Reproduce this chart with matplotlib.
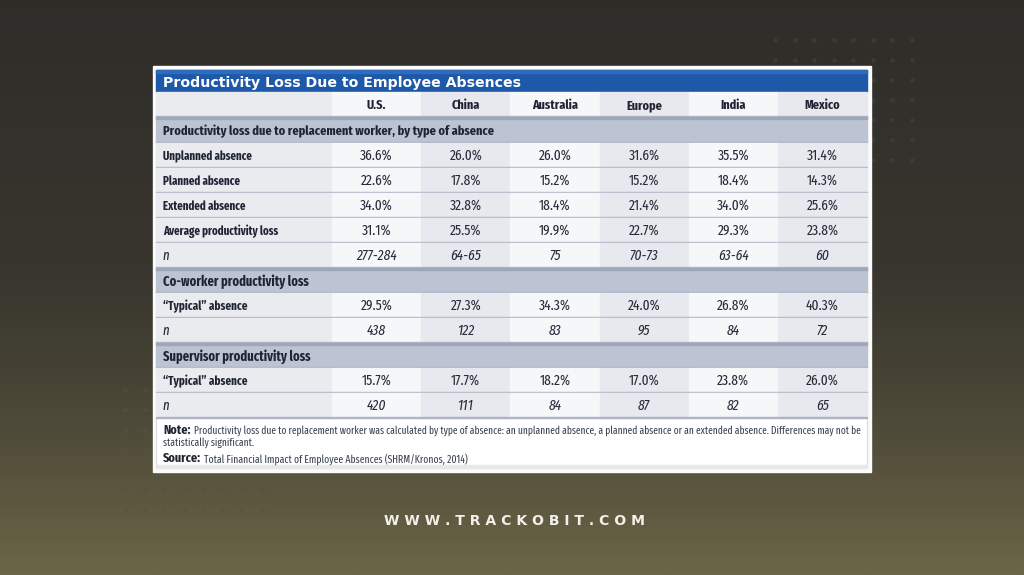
import numpy as np
import matplotlib
matplotlib.use("Agg")
import matplotlib.pyplot as plt
from matplotlib.patches import Rectangle

# ---- data ----
countries = ["U.S.", "China", "Australia", "Europe", "India", "Mexico"]

section1 = "Productivity loss due to replacement worker, by type of absence"
rows1 = ["Unplanned absence", "Planned absence", "Extended absence", "Average productivity loss"]
vals1 = [
    ["36.6%", "26.0%", "26.0%", "31.6%", "35.5%", "31.4%"],
    ["22.6%", "17.8%", "15.2%", "15.2%", "18.4%", "14.3%"],
    ["34.0%", "32.8%", "18.4%", "21.4%", "34.0%", "25.6%"],
    ["31.1%", "25.5%", "19.9%", "22.7%", "29.3%", "23.8%"],
]
n1 = ["277-284", "64-65", "75", "70-73", "63-64", "60"]

section2 = "Co-worker productivity loss"
typical2 = ["29.5%", "27.3%", "34.3%", "24.0%", "26.8%", "40.3%"]
n2 = ["438", "122", "83", "95", "84", "72"]

section3 = "Supervisor productivity loss"
typical3 = ["15.7%", "17.7%", "18.2%", "17.0%", "23.8%", "26.0%"]
n3 = ["420", "111", "84", "87", "82", "65"]

title = "Productivity Loss Due to Employee Absences"
note1 = ("Productivity loss due to replacement worker was calculated by type of absence: an unplanned absence, "
         "a planned absence or an extended absence. Differences may not be")
note2 = "statistically significant."
source = "Total Financial Impact of Employee Absences (SHRM/Kronos, 2014)"
site = "W W W . T R A C K O B I T . C O M"

NARROW = ["Fira Sans Extra Condensed", "Roboto Condensed", "DejaVu Sans"]
TXT = "#1e2433"

W, H = 1024, 575
fig = plt.figure(figsize=(W / 100, H / 100), dpi=100)
ax = fig.add_axes([0, 0, 1, 1])
ax.set_xlim(0, W)
ax.set_ylim(H, 0)
ax.axis("off")

# background gradient
t = np.linspace(0, 1, 256)[:, None]
top = np.array([0.18, 0.176, 0.16])
mid = np.array([0.22, 0.21, 0.18])
bot = np.array([0.42, 0.40, 0.28])
w = np.clip((t - 0.45) / 0.55, 0, 1) ** 1.3
col = np.where(t < 0.45, top + (mid - top) * (t / 0.45), mid + (bot - mid) * w)
grad = np.repeat(col[:, None, :], 2, axis=1).reshape(256, 2, 3)
ax.imshow(grad, extent=[0, W, H, 0], aspect="auto", zorder=0)

# faint dot grids
for gx in np.arange(775, 915, 19.5):
    for gy in np.arange(40, 165, 20):
        ax.plot(gx, gy, "o", ms=2.5, color="#44423c", alpha=0.45, zorder=1)
for gx in np.arange(125, 265, 19.5):
    for gy in np.arange(390, 515, 20):
        ax.plot(gx, gy, "o", ms=2.5, color="#57543f", alpha=0.4, zorder=1)

renderer = fig.canvas.get_renderer()


def fit_text(x, y, s, width, size, **kw):
    tx = ax.text(x, y, s, fontsize=size, **kw)
    bb = tx.get_window_extent(renderer=renderer)
    if bb.width > 0:
        tx.set_fontsize(size * width / bb.width)
    return tx


# card
ax.add_patch(Rectangle((153, 66), 718, 406, color="#fbfbfc", zorder=2))
ax.add_patch(Rectangle((156, 70), 711, 398, facecolor="white", edgecolor="#d7dae0", lw=0.8, zorder=2))

# title bar
ax.add_patch(Rectangle((156, 70), 711, 22, color="#1d59a8", zorder=3))
ax.add_patch(Rectangle((156, 70), 711, 3, color="#2f6cbc", zorder=3))
fit_text(163, 86.5, title, 356, 11, color="white", fontweight="bold",
         family=["DejaVu Sans"], va="baseline", ha="left", zorder=4)

x_lab0, x_lab1 = 156, 332
x_end = 867
cw = (x_end - x_lab1) / len(countries)
col_x = [x_lab1 + i * cw for i in range(len(countries))]
col_fill = ["#f6f7f9", "#e7e9ee", "#f6f7f9", "#e7e9ee", "#f6f7f9", "#e7e9ee"]

# label widths (px), a little wider to keep the glyph height
lab_w = {section1: 330, section2: 145, section3: 147,
         "Unplanned absence": 90, "Planned absence": 78, "Extended absence": 84,
         "Average productivity loss": 116, "\u201cTypical\u201d absence": 85}

table = [("head", "", countries), ("sec", section1, None)]
for lab, v in zip(rows1, vals1):
    table.append(("row", lab, v))
table.append(("n", "n", n1))
table.append(("sec", section2, None))
table.append(("row", "\u201cTypical\u201d absence", typical2))
table.append(("n", "n", n2))
table.append(("sec", section3, None))
table.append(("row", "\u201cTypical\u201d absence", typical3))
table.append(("n", "n", n3))

y = 92.0
rh = [25, 26] + [25] * 11
for (kind, lab, vals), h in zip(table, rh):
    yb = y + h / 2 + 4.5
    if kind == "sec":
        ax.add_patch(Rectangle((x_lab0, y), x_end - x_lab0, h, color="#bcc3d2", zorder=3))
        ax.add_patch(Rectangle((x_lab0, y), x_end - x_lab0, 1.8, color="#9ea7ba", zorder=3))
        ax.add_patch(Rectangle((x_lab0, y + h - 1.5), x_end - x_lab0, 1.5, color="#a9b1c2", zorder=3))
        fit_text(163, yb + 0.5, lab, lab_w[lab], 10.5, fontweight="bold", color=TXT,
                 family=NARROW, va="baseline", ha="left", zorder=4)
    else:
        ax.add_patch(Rectangle((x_lab0, y), x_lab1 - x_lab0, h, color="#e9ebef", zorder=3))
        for cx, fc in zip(col_x, col_fill):
            ax.add_patch(Rectangle((cx, y), cw, h, color=fc, zorder=3))
        ax.add_patch(Rectangle((x_lab0, y + h - 1.5), x_end - x_lab0, 1.5, color="#aeb5c4", zorder=3))
        if kind == "head":
            for cx, v in zip(col_x, vals):
                ax.text(cx + cw / 2, yb, v, fontsize=9.5, fontweight="bold", color=TXT,
                        family=NARROW, va="baseline", ha="center", zorder=4)
        else:
            style = "italic" if kind == "n" else "normal"
            if kind == "n":
                ax.text(163, yb, lab, fontsize=10, color=TXT, style=style,
                        family=NARROW, va="baseline", ha="left", zorder=4)
            else:
                fit_text(163, yb, lab, lab_w[lab], 9.5, fontweight="bold", color=TXT,
                         family=NARROW, va="baseline", ha="left", zorder=4)
            for cx, v in zip(col_x, vals):
                ax.text(cx + cw / 2, yb, v, fontsize=10.5, color="#262c3a", style=style,
                        family=NARROW, va="baseline", ha="center", zorder=4)
    y += h

# notes
ax.add_patch(Rectangle((156, 465), 711, 3, color="#e6e8ec", zorder=3))
tn = ax.text(163, 433.5, "Note:", fontsize=9.5, fontweight="bold", color=TXT,
             family=NARROW, va="baseline", ha="left", zorder=4)
bb = tn.get_window_extent(renderer=renderer)
fit_text(163 + bb.width + 3, 433.5, note1, 857 - 163 - bb.width - 3, 9, color="#3a4050",
         family=NARROW, va="baseline", ha="left", zorder=4)
fit_text(163, 446, note2, 90, 9, color="#3a4050",
         family=NARROW, va="baseline", ha="left", zorder=4)
ts = ax.text(163, 462.5, "Source:", fontsize=9.5, fontweight="bold", color=TXT,
             family=NARROW, va="baseline", ha="left", zorder=4)
bb = ts.get_window_extent(renderer=renderer)
fit_text(163 + bb.width + 3, 462.5, source, 466 - 163 - bb.width - 3, 9, color="#3a4050",
         family=NARROW, va="baseline", ha="left", zorder=4)

# site watermark
fit_text(384, 525, site, 260, 8, color="#f2f0e8", fontweight="bold",
         family=["DejaVu Sans"], va="baseline", ha="left", zorder=4)

fig.savefig("out.png", dpi=100)
